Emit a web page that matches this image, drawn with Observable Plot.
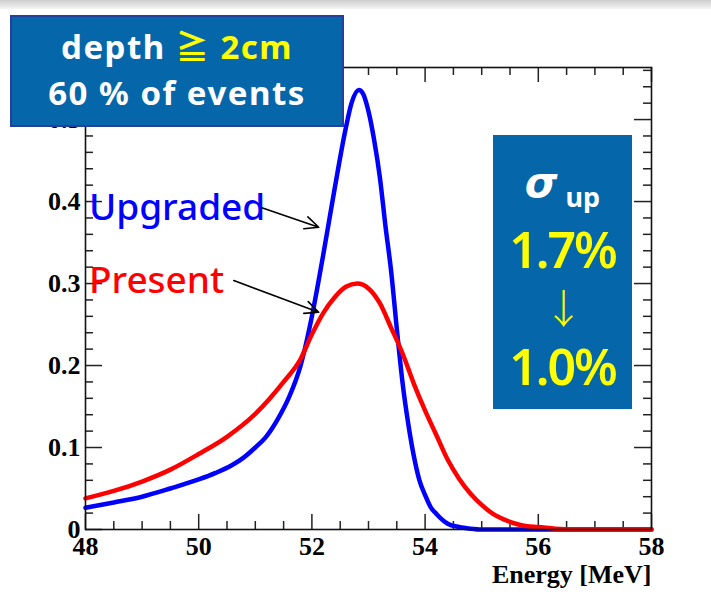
<!DOCTYPE html>
<html>
<head>
<meta charset="utf-8">
<script src="https://cdn.jsdelivr.net/npm/d3@7"></script>
<script src="https://cdn.jsdelivr.net/npm/@observablehq/plot@0.6"></script>
<style>
  html, body { margin: 0; padding: 0; background: #fff; }
  #wrap { position: relative; width: 711px; height: 594px; overflow: hidden; background: #fff; }
  #topband { position: absolute; left: 0; top: 0; width: 711px; height: 9px;
    background: linear-gradient(180deg, #cfcfcf 0%, #e4e4e4 60%, #f6f6f6 100%); }
  #chart { position: absolute; left: 0; top: 0; }
  .box { position: absolute; background: #0566aa; box-sizing: border-box; text-align: center; }
  #box1 { left: 10px; top: 15px; width: 334px; height: 112px; border: 2px solid #2340a0;
    color: #fff; font: bold 33px "Noto Sans", "Noto Sans CJK JP", sans-serif; letter-spacing: 1.5px;
    line-height: 46px; padding-top: 7px; }
  #box2 { left: 493px; top: 135px; width: 139px; height: 274px; color: #ffff00;
    font: 600 50px "Noto Sans", sans-serif; letter-spacing: -2px; }
  .y { color: #ffff00; }
  g[aria-label="x-axis tick label"] text, g[aria-label="y-axis tick label"] text {
    font-size: 26px; font-weight: bold; font-family: 'Liberation Serif', 'Times New Roman', serif; }
</style>
</head>
<body>
<div id="wrap">
  <div id="topband"></div>
  <div id="chart"></div>
  <div id="box1" class="box"></div>
  <div id="box2" class="box"></div>
</div>
<script>
// ---- data ----
const energyUpgraded = [48.0, 48.5, 49.0, 49.5, 50.0, 50.3, 50.6, 50.8, 51.0, 51.2, 51.4, 51.6, 51.8, 52.0, 52.2, 52.4, 52.6, 52.7, 52.83, 52.9, 53.0, 53.1, 53.2, 53.3, 53.4, 53.5, 53.6, 53.7, 53.8, 53.9, 54.0, 54.1, 54.2, 54.4, 54.6, 54.8, 55.0, 56.0, 57.0, 58.0];
const probUpgraded   = [0.0265, 0.033, 0.040, 0.050, 0.061, 0.069, 0.079, 0.088, 0.100, 0.114, 0.135, 0.162, 0.200, 0.260, 0.335, 0.415, 0.490, 0.520, 0.536, 0.532, 0.510, 0.475, 0.430, 0.370, 0.315, 0.245, 0.180, 0.130, 0.090, 0.060, 0.042, 0.027, 0.019, 0.007, 0.003, 0.001, 0.0, 0.0, 0.0, 0.0];
const energyPresent  = [48.0, 48.5, 49.0, 49.5, 50.0, 50.5, 51.0, 51.5, 51.8, 52.0, 52.2, 52.4, 52.6, 52.8, 53.0, 53.2, 53.4, 53.6, 53.8, 54.0, 54.2, 54.4, 54.6, 54.8, 55.0, 55.2, 55.4, 55.6, 55.8, 56.0, 56.3, 56.6, 57.0, 58.0];
const probPresent    = [0.038, 0.047, 0.0585, 0.073, 0.092, 0.113, 0.141, 0.180, 0.208, 0.238, 0.264, 0.283, 0.296, 0.300, 0.294, 0.276, 0.246, 0.215, 0.178, 0.145, 0.115, 0.085, 0.062, 0.044, 0.030, 0.019, 0.012, 0.007, 0.004, 0.003, 0.001, 0.0, 0.0, 0.0];

const xMajorTicks = [48, 50, 52, 54, 56, 58];
const yMajorTicks = [0, 0.1, 0.2, 0.3, 0.4, 0.5];
const xLabel = "Energy [MeV]";

const seriesLabels = ["Upgraded", "Present"];
const seriesColors = ["#0000ff", "#ff0000"];
const labelEnergy = [48.06, 48.06];
const labelProb = [0.392, 0.303];
const arrowFromEnergy = [51.09, 50.62];
const arrowFromProb = [0.393, 0.3037];
const arrowToEnergy = [52.12, 52.12];
const arrowToProb = [0.3687, 0.265];

const box1Lines = ["depth", "≧ 2cm", "60 % of events"];
const box2Lines = ["σ", "up", "1.7%", "↓", "1.0%"];

// ---- tables ----
const upgraded = energyUpgraded.map((e, i) => ({e, p: probUpgraded[i]}));
const present = energyPresent.map((e, i) => ({e, p: probPresent[i]}));
const labels = seriesLabels.map((s, i) => ({s, c: seriesColors[i], e: labelEnergy[i], p: labelProb[i]}));
const arrows = seriesLabels.map((s, i) => ({e1: arrowFromEnergy[i], p1: arrowFromProb[i], e2: arrowToEnergy[i], p2: arrowToProb[i]}));
const xMinorTicks = d3.range(48, 58.01, 0.5).filter(v => !xMajorTicks.includes(v));
const yMinorTicks = d3.range(0, 0.561, 0.02).filter(v => !yMajorTicks.some(m => Math.abs(m - v) < 1e-9));

const W = 711, H = 594;
const mL = 85, mR = 60, mT = 67, mB = 65;
const fw = W - mL - mR, fh = H - mT - mB;
const tickColor = "#222";
const serif = "'Liberation Serif', 'Times New Roman', serif";

const chart = Plot.plot({
  width: W, height: H,
  marginLeft: mL, marginRight: mR, marginTop: mT, marginBottom: mB,
  style: {fontFamily: serif, fontSize: "26px", fontWeight: "bold", background: "transparent", color: "#000"},
  x: {domain: [48, 58]},
  y: {domain: [0, 0.5635]},
  marks: [
    // ticks inward on all four sides
    Plot.ruleX(xMajorTicks, {x: d => d, insetTop: fh - 15, stroke: tickColor, strokeWidth: 1.5}),
    Plot.ruleX(xMinorTicks, {x: d => d, insetTop: fh - 8, stroke: tickColor, strokeWidth: 1.5}),
    Plot.ruleX(xMajorTicks, {x: d => d, insetBottom: fh - 15, stroke: tickColor, strokeWidth: 1.5}),
    Plot.ruleX(xMinorTicks, {x: d => d, insetBottom: fh - 8, stroke: tickColor, strokeWidth: 1.5}),
    Plot.ruleY(yMajorTicks, {y: d => d, insetRight: fw - 17, stroke: tickColor, strokeWidth: 1.5}),
    Plot.ruleY(yMinorTicks, {y: d => d, insetRight: fw - 8, stroke: tickColor, strokeWidth: 1.5}),
    Plot.ruleY(yMajorTicks, {y: d => d, insetLeft: fw - 17, stroke: tickColor, strokeWidth: 1.5}),
    Plot.ruleY(yMinorTicks, {y: d => d, insetLeft: fw - 8, stroke: tickColor, strokeWidth: 1.5}),
    Plot.axisX(xMajorTicks, {tickSize: 0, tickPadding: 7, label: null, fontSize: 26, fontWeight: "bold", fontFamily: serif}),
    Plot.axisY(yMajorTicks, {tickSize: 0, tickPadding: 5, label: null, fontSize: 26, fontWeight: "bold", fontFamily: serif,
      tickFormat: d => d === 0 ? "0" : d.toFixed(1)}),
    Plot.text([xLabel], {frameAnchor: "bottom-right", dy: 53, text: d => d, textAnchor: "end", fontSize: 26, fontWeight: "bold", fontFamily: serif}),
    Plot.line(upgraded, {x: "e", y: "p", stroke: seriesColors[0], strokeWidth: 4.5, curve: "monotone-x"}),
    Plot.line(present, {x: "e", y: "p", stroke: seriesColors[1], strokeWidth: 4.5, curve: "monotone-x"}),
    Plot.frame({stroke: "#111", strokeWidth: 1.6}),
    Plot.arrow(arrows, {x1: "e1", y1: "p1", x2: "e2", y2: "p2", stroke: "#000", strokeWidth: 1.6, headLength: 14, headAngle: 50}),
    Plot.text(labels, {x: "e", y: "p", text: "s", fill: "c", textAnchor: "start", fontSize: 37, fontWeight: 500,
      fontFamily: "'Noto Sans', sans-serif"})
  ]
});
document.getElementById("chart").append(chart);

// boxes
document.getElementById("box1").innerHTML =
  `${box1Lines[0]} <span class="y">${box1Lines[1]}</span><br>${box1Lines[2]}`;
document.getElementById("box2").innerHTML =
  `<div style="color:#fff;margin-top:18px;height:62px;line-height:50px;letter-spacing:0"><span style="font:italic bold 42px 'DejaVu Sans',sans-serif">${box2Lines[0]}</span><span style="font:bold 27px 'Noto Sans',sans-serif;vertical-align:-10px;margin-left:8px">${box2Lines[1]}</span></div>
   <div style="line-height:58px;margin-top:5px">${box2Lines[2]}</div>
   <div style="font:300 40px 'Noto Sans CJK JP',sans-serif;line-height:56px">${box2Lines[3]}</div>
   <div style="line-height:60px;margin-top:2px">${box2Lines[4]}</div>`;
</script>
</body>
</html>
